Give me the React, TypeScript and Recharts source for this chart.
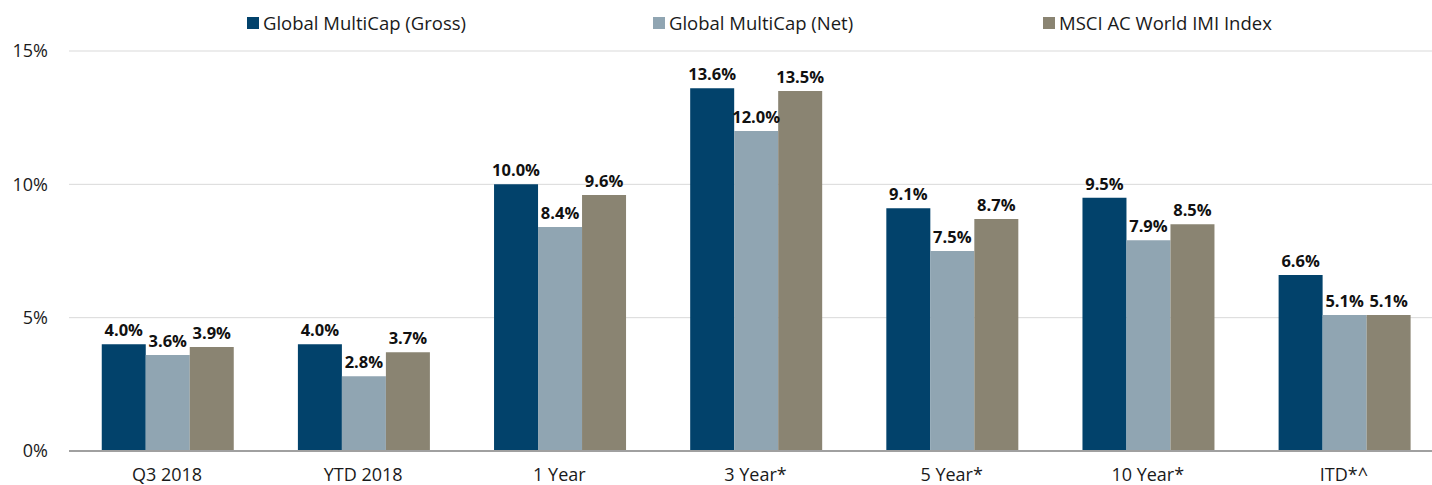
import React from "react";
import { BarChart, Bar, XAxis, YAxis, CartesianGrid, Legend, LabelList } from "recharts";

const categories = ["Q3 2018", "YTD 2018", "1 Year", "3 Year*", "5 Year*", "10 Year*", "ITD*^"];
const gross = [4.0, 4.0, 10.0, 13.6, 9.1, 9.5, 6.6];
const net = [3.6, 2.8, 8.4, 12.0, 7.5, 7.9, 5.1];
const msci = [3.9, 3.7, 9.6, 13.5, 8.7, 8.5, 5.1];
const yTicks = [0, 5, 10, 15];

const seriesNames = ["Global MultiCap (Gross)", "Global MultiCap (Net)", "MSCI AC World IMI Index"];
const colors = ["#02426B", "#90A5B2", "#8A8472"];

const data = categories.map((c, i) => ({ name: c, gross: gross[i], net: net[i], msci: msci[i] }));

const FONT = "'Open Sans', Lato, sans-serif";
const legendX = [247, 653, 1043];

const renderLegend = () => (
  <div style={{ position: "relative", width: 1432, height: 26, fontFamily: FONT }}>
    {seriesNames.map((n, i) => (
      <div key={n} style={{ position: "absolute", left: legendX[i], top: 0, display: "flex", alignItems: "center", whiteSpace: "nowrap" }}>
        <span style={{ width: 12, height: 12, background: colors[i], display: "inline-block", marginRight: 4 }} />
        <span style={{ fontSize: 18.5, color: "#1a1a1a" }}>{n}</span>
      </div>
    ))}
  </div>
);

const fmt = (v: number) => `${v.toFixed(1)}%`;

export default function App() {
  return (
    <div style={{ position: "absolute", left: 0, top: 0, width: 1432, height: 485, overflow: "hidden", background: "#fff" }}>
      <BarChart
        width={1442}
        height={485}
        data={data}
        margin={{ top: 51, right: 0, left: 0, bottom: 0 }}
        barCategoryGap="16.7%"
        barGap={0}
      >
        <CartesianGrid vertical={false} stroke="#d9d9d9" />
        <XAxis
          dataKey="name"
          height={34}
          tickSize={0}
          tickMargin={17}
          axisLine={{ stroke: "#a0a0a0", strokeWidth: 2 }}
          tick={{ fontSize: 18, fill: "#1a1a1a", fontFamily: FONT }}
        />
        <YAxis
          width={69}
          domain={[0, 15]}
          ticks={yTicks}
          tickFormatter={(v: number) => `${v}%`}
          axisLine={false}
          tickLine={false}
          tickSize={0}
          tickMargin={21}
          tick={{ fontSize: 18, fill: "#1a1a1a", fontFamily: FONT }}
        />
        <Legend
          layout="horizontal"
          verticalAlign="middle"
          wrapperStyle={{ top: 10, left: 0, width: 1432 }}
          content={renderLegend}
        />
        {(["gross", "net", "msci"] as const).map((k, i) => (
          <Bar key={k} dataKey={k} name={seriesNames[i]} fill={colors[i]} isAnimationActive={false}>
            <LabelList
              dataKey={k}
              position="top"
              offset={8}
              formatter={(v: any) => fmt(Number(v))}
              style={{ fontSize: 16.5, fontWeight: 700, fill: "#111", fontFamily: FONT }}
            />
          </Bar>
        ))}
      </BarChart>
    </div>
  );
}
